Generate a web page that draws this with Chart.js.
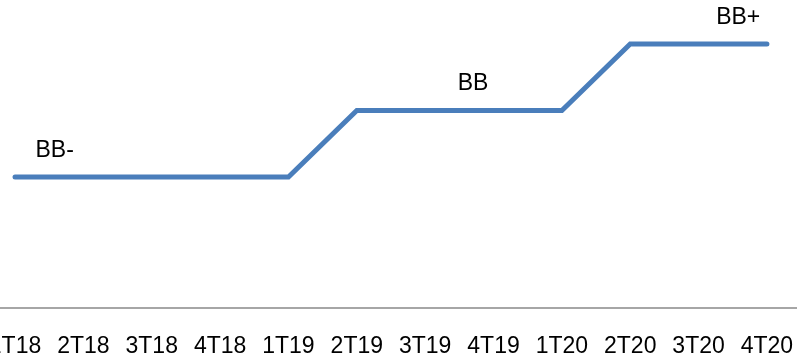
<!DOCTYPE html>
<html>
<head>
<meta charset="utf-8">
<script src="https://cdn.jsdelivr.net/npm/chart.js@4/dist/chart.umd.min.js"></script>
<style>
html,body{margin:0;padding:0;background:#fff;}
canvas{display:block;}
</style>
</head>
<body>
<canvas id="c" width="797" height="357"></canvas>
<script>
// ---- data ----
const quarters = ['1T18','2T18','3T18','4T18','1T19','2T19','3T19','4T19','1T20','2T20','3T20','4T20'];
const ratingScale = ['BB-','BB','BB+'];            // rating names for levels 1,2,3
const ratingLevel = [1,1,1,1,1,2,2,2,2,3,3,3];      // rating level per quarter
const ratingTextPoints = [0, 6, 10];               // quarter index where each rating name is written

// ---- style ----
const FONT = '"Liberation Sans", Arial, sans-serif';
const FONT_SIZE = 23;
const LABEL_SHIFT = [0.58, 0.7, 0.58];             // fraction of a step to the right of the point
const LABEL_RAISE = 20;

const points = ratingLevel.map((v, i) => ({x: i, y: v}));

const ratingText = {
  id: 'ratingText',
  afterDatasetsDraw(chart) {
    const xs = chart.scales.x, ys = chart.scales.y, ctx = chart.ctx;
    const step = xs.getPixelForValue(1) - xs.getPixelForValue(0);
    ctx.save();
    ctx.font = FONT_SIZE + 'px ' + FONT;
    ctx.fillStyle = '#000';
    ctx.textAlign = 'center';
    ctx.textBaseline = 'alphabetic';
    ratingTextPoints.forEach((idx, k) => {
      const x = xs.getPixelForValue(idx) + LABEL_SHIFT[k] * step;
      const y = ys.getPixelForValue(ratingLevel[idx]) - LABEL_RAISE;
      ctx.fillText(ratingScale[ratingLevel[idx] - 1], x, y);
    });
    ctx.restore();
  }
};

new Chart(document.getElementById('c'), {
  type: 'line',
  data: {
    datasets: [{
      data: points,
      borderColor: '#4a7ebb',
      borderWidth: 5,
      borderCapStyle: 'round',
      borderJoinStyle: 'miter',
      pointRadius: 0,
      tension: 0,
      fill: false
    }]
  },
  options: {
    responsive: false,
    animation: false,
    layout: {padding: 0},
    plugins: {legend: {display: false}, tooltip: {enabled: false}},
    scales: {
      x: {
        type: 'linear',
        min: -0.22,
        max: 11.44,
        grid: {display: false, drawTicks: false},
        border: {display: true, color: '#a6a6a6', width: 2},
        afterBuildTicks: s => { s.ticks = quarters.map((_, i) => ({value: i})); },
        ticks: {
          autoSkip: false,
          maxRotation: 0,
          padding: 25,
          color: '#000',
          font: {family: FONT, size: FONT_SIZE},
          callback: v => quarters[v] ?? ''
        },
        afterFit: s => { s.paddingLeft = 0; s.paddingRight = 0; s.height = 49; }
      },
      y: {
        display: false,
        min: -0.97,
        max: 3.66
      }
    }
  },
  plugins: [ratingText]
});
</script>
</body>
</html>
